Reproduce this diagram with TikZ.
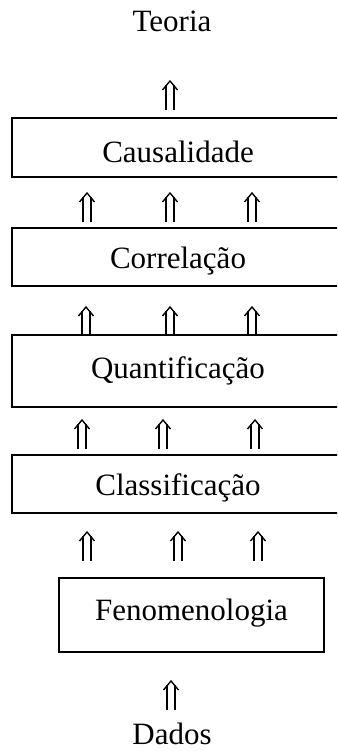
\documentclass[tikz,border=0pt]{standalone}
\usepackage{fontspec}
\setmainfont{Liberation Serif}

\tikzset{
	camada/.style={draw,line width=2pt,inner sep=0pt},
	rotulo/.style={anchor=base,inner sep=0pt,font=\fontsize{31}{36}\selectfont},
	subida/.pic={
		\draw[line width=1.4pt](-4,4)--(-4,29) (4,4)--(4,29);
		\draw[line width=1.4pt](-7.5,9)--(0,0)--(7.5,9);
	}
}

\begin{document}
\begin{tikzpicture}[x=1pt,y=-1pt]
		\clip(0,0)rectangle(337,751);
		\node[rotulo](teoria) at (172,32){Teoria};
		\node[camada,minimum width=332pt,minimum height=59pt](caus) at (178,148){};
		\node[rotulo](tcaus) at (178,163){Causalidade};
		\node[camada,minimum width=332pt,minimum height=58pt](corr) at (178,257){};
		\node[rotulo](tcorr) at (178,268){Correlação};
		\node[camada,minimum width=332pt,minimum height=72pt](quant) at (178,371){};
		\node[rotulo](tquant) at (178,378){Quantificação};
		\node[camada,minimum width=332pt,minimum height=58pt](class) at (178,484){};
		\node[rotulo](tclass) at (178,495){Classificação};
		\node[camada,minimum width=265pt,minimum height=74pt](fen) at (191.5,615){};
		\node[rotulo](tfen) at (191.5,620){Fenomenologia};
		\node[rotulo](dados) at (172,744){Dados};
		\pic at (170,81){subida};
		\foreach \x in {87,170,252} \pic at (\x,193){subida};
		\foreach \x in {86,170,252} \pic at (\x,307){subida};
		\foreach \x in {82,163,255} \pic at (\x,420){subida};
		\foreach \x in {87,178,258} \pic at (\x,532){subida};
		\pic at (171,681){subida};
		\end{tikzpicture}
\end{document}
